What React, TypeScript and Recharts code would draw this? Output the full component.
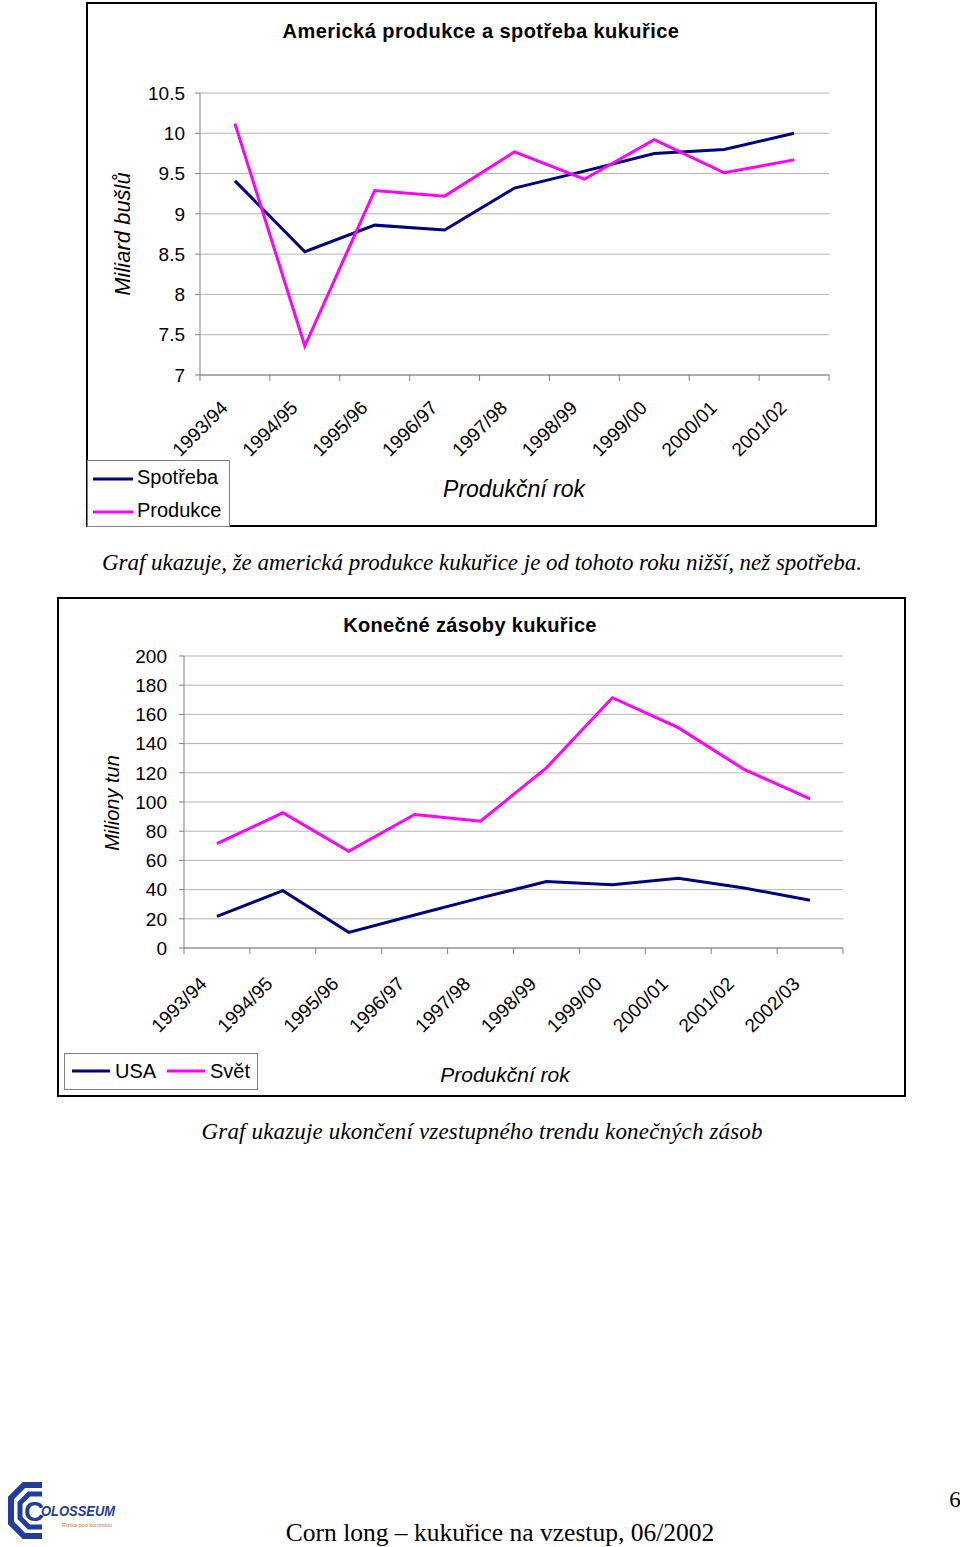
import React from 'react';
import {
    LineChart,
    Line,
    XAxis,
    YAxis,
    CartesianGrid,
} from 'recharts';

// Graf 1 – americká produkce a spotřeba (miliard bušlů)
const seasons1 = ['1993/94', '1994/95', '1995/96', '1996/97', '1997/98', '1998/99', '1999/00', '2000/01', '2001/02'];
const spotreba = [9.41, 8.53, 8.86, 8.8, 9.32, 9.53, 9.75, 9.8, 10.0];
const produkce = [10.12, 7.36, 9.29, 9.22, 9.77, 9.43, 9.92, 9.51, 9.67];
const ticks1 = [7, 7.5, 8, 8.5, 9, 9.5, 10, 10.5];

// Graf 2 – konečné zásoby (miliony tun)
const seasons2 = ['1993/94', '1994/95', '1995/96', '1996/97', '1997/98', '1998/99', '1999/00', '2000/01', '2001/02', '2002/03'];
const usa = [21.7, 39.3, 10.7, 22.6, 34.3, 45.5, 43.4, 47.8, 41.1, 32.7];
const svet = [71.5, 92.6, 66.3, 91.4, 86.9, 123.4, 171.4, 150.9, 122.3, 102.2];
const ticks2 = [0, 20, 40, 60, 80, 100, 120, 140, 160, 180, 200];

const data1 = seasons1.map((season, i) => ({ season, spotreba: spotreba[i], produkce: produkce[i] }));
const data2 = seasons2.map((season, i) => ({ season, usa: usa[i], svet: svet[i] }));

const NAVY = '#000080';
const MAGENTA = '#FF00FF';
const GRID = '#b4b4b4';
const AXIS = '#808080';
const LOGO = '#1f3d99';
const SANS = '"Liberation Sans", Arial, sans-serif';
const SERIF = '"Liberation Serif", "Times New Roman", serif';

// popisek osy X: čárky na hranicích kategorií + text otočený o 45°
const SeasonTick = (props: any) => {
    const { x, y, payload, index, band, count, dx, dy } = props;
    const tx = x + dx;
    const ty = y + dy;
    return (
        <g>
            <line x1={x - band / 2} y1={y} x2={x - band / 2} y2={y + 6} stroke={AXIS} />
            {index === count - 1 && (
                <line x1={x + band / 2} y1={y} x2={x + band / 2} y2={y + 6} stroke={AXIS} />
            )}
            <text
                x={tx}
                y={ty}
                transform={`rotate(-45, ${tx}, ${ty})`}
                textAnchor="end"
                fontSize={19}
                fontFamily={SANS}
                fill="#000"
            >
                {payload.value}
            </text>
        </g>
    );
};

const Logo = () => (
    <g>
        <path
            d="M42 1485 L24 1485 L11 1498 L11 1523 L24 1536 L42 1536"
            fill="none"
            stroke={LOGO}
            strokeWidth={6}
        />
        <path
            d="M42 1494 L29 1494 L20 1503 L20 1518 L29 1527 L42 1527"
            fill="none"
            stroke={LOGO}
            strokeWidth={5}
        />
        <text x={24} y={1521} fontSize={28} fontWeight="bold" fontFamily={SANS} fill={LOGO}>C</text>
        <text x={41} y={1516} fontSize={15} fontWeight="bold" fontStyle="italic" fontFamily={SANS} fill={LOGO} textLength={74} lengthAdjust="spacingAndGlyphs">OLOSSEUM</text>
        <text x={62} y={1527} fontSize={5} fontFamily={SANS} fill="#c87a3c" textLength={50} lengthAdjust="spacingAndGlyphs">Rizika pod kontrolou</text>
    </g>
);

export default function App() {
    const band1 = 629 / seasons1.length;
    const band2 = 659 / seasons2.length;

    return (
        <div style={{ position: 'absolute', left: 0, top: 0, width: 960, height: 1547, background: '#fff' }}>
            {/* Graf 1 */}
            <div style={{ position: 'absolute', left: 86, top: 2 }}>
                <LineChart width={791} height={525} data={data1} margin={{ top: 91, right: 48, left: 0, bottom: 0 }}>
                    <CartesianGrid vertical={false} stroke={GRID} />
                    <XAxis
                        dataKey="season"
                        height={152}
                        interval={0}
                        padding={{ left: band1 / 2, right: band1 / 2 }}
                        tickLine={false}
                        tickSize={0}
                        tickMargin={0}
                        axisLine={{ stroke: AXIS }}
                        tick={(p: any) => <SeasonTick {...p} band={band1} count={seasons1.length} dx={-6} dy={34} />}
                    />
                    <YAxis
                        type="number"
                        domain={[7, 10.5]}
                        ticks={ticks1}
                        interval={0}
                        width={114}
                        tickSize={5}
                        tickMargin={10}
                        tickLine={{ stroke: AXIS }}
                        axisLine={{ stroke: AXIS }}
                        tick={{ fontSize: 19, fill: '#000', fontFamily: SANS }}
                    />
                    <YAxis yAxisId="r" orientation="right" width={0} tick={false} tickLine={false} axisLine={{ stroke: AXIS }} />
                    <Line type="linear" dataKey="spotreba" name="Spotřeba" stroke={NAVY} strokeWidth={3} dot={false} isAnimationActive={false} />
                    <Line type="linear" dataKey="produkce" name="Produkce" stroke={MAGENTA} strokeWidth={3} dot={false} isAnimationActive={false} />
                </LineChart>
            </div>

            {/* Graf 2 */}
            <div style={{ position: 'absolute', left: 57, top: 597 }}>
                <LineChart width={849} height={500} data={data2} margin={{ top: 59, right: 63, left: 0, bottom: 0 }}>
                    <CartesianGrid vertical={false} stroke={GRID} />
                    <XAxis
                        dataKey="season"
                        height={149}
                        interval={0}
                        padding={{ left: band2 / 2, right: band2 / 2 }}
                        tickLine={false}
                        tickSize={0}
                        tickMargin={0}
                        axisLine={{ stroke: AXIS }}
                        tick={(p: any) => <SeasonTick {...p} band={band2} count={seasons2.length} dx={-9} dy={37} />}
                    />
                    <YAxis
                        type="number"
                        domain={[0, 200]}
                        ticks={ticks2}
                        interval={0}
                        width={127}
                        tickSize={5}
                        tickMargin={12}
                        tickLine={{ stroke: AXIS }}
                        axisLine={{ stroke: AXIS }}
                        tick={{ fontSize: 19, fill: '#000', fontFamily: SANS }}
                    />
                    <YAxis yAxisId="r" orientation="right" width={0} tick={false} tickLine={false} axisLine={{ stroke: AXIS }} />
                    <Line type="linear" dataKey="usa" name="USA" stroke={NAVY} strokeWidth={3} dot={false} isAnimationActive={false} />
                    <Line type="linear" dataKey="svet" name="Svět" stroke={MAGENTA} strokeWidth={3} dot={false} isAnimationActive={false} />
                </LineChart>
            </div>

            {/* rámečky, nadpisy, legendy, texty stránky */}
            <svg width={960} height={1547} style={{ position: 'absolute', left: 0, top: 0, pointerEvents: 'none' }}>
                <rect x={87} y={3} width={789} height={523} fill="none" stroke="#000" strokeWidth={2} />
                <text x={481} y={38} textAnchor="middle" fontSize={20} fontWeight="bold" fontFamily={SANS} letterSpacing={0.45}>
                    Americká produkce a spotřeba kukuřice
                </text>
                <text transform="translate(130, 234) rotate(-90)" textAnchor="middle" fontSize={22} fontStyle="italic" fontFamily={SANS}>
                    Miliard bušlů
                </text>
                <text x={514} y={497} textAnchor="middle" fontSize={23} fontStyle="italic" fontFamily={SANS}>
                    Produkční rok
                </text>
                <rect x={87.5} y={460.5} width={142} height={66} fill="#fff" stroke={AXIS} />
                <line x1={93} y1={479} x2={133} y2={479} stroke={NAVY} strokeWidth={3} />
                <text x={137} y={484} fontSize={20} fontFamily={SANS}>Spotřeba</text>
                <line x1={93} y1={512} x2={133} y2={512} stroke={MAGENTA} strokeWidth={3} />
                <text x={137} y={517} fontSize={20} fontFamily={SANS}>Produkce</text>

                <text x={482} y={570} textAnchor="middle" fontSize={23} fontStyle="italic" fontFamily={SERIF} textLength={760} lengthAdjust="spacing">
                    Graf ukazuje, že americká produkce kukuřice je od tohoto roku nižší, než spotřeba.
                </text>

                <rect x={58} y={598} width={847} height={498} fill="none" stroke="#000" strokeWidth={2} />
                <text x={470} y={632} textAnchor="middle" fontSize={20} fontWeight="bold" fontFamily={SANS} letterSpacing={0.35}>
                    Konečné zásoby kukuřice
                </text>
                <text transform="translate(119, 803) rotate(-90)" textAnchor="middle" fontSize={20} fontStyle="italic" fontFamily={SANS}>
                    Miliony tun
                </text>
                <text x={505} y={1082} textAnchor="middle" fontSize={21} fontStyle="italic" fontFamily={SANS}>
                    Produkční rok
                </text>
                <rect x={64.5} y={1053.5} width={193} height={36} fill="#fff" stroke={AXIS} />
                <line x1={72} y1={1071} x2={110} y2={1071} stroke={NAVY} strokeWidth={3} />
                <text x={115} y={1078} fontSize={20} fontFamily={SANS}>USA</text>
                <line x1={167} y1={1071} x2={205} y2={1071} stroke={MAGENTA} strokeWidth={3} />
                <text x={210} y={1078} fontSize={20} fontFamily={SANS}>Svět</text>

                <text x={482} y={1139} textAnchor="middle" fontSize={23} fontStyle="italic" fontFamily={SERIF} textLength={561} lengthAdjust="spacing">
                    Graf ukazuje ukončení vzestupného trendu konečných zásob
                </text>

                <Logo />
                <text x={955} y={1507} textAnchor="middle" fontSize={23} fontFamily={SERIF}>6</text>
                <text x={500} y={1541} textAnchor="middle" fontSize={25.5} fontFamily={SERIF}>
                    Corn long – kukuřice na vzestup, 06/2002
                </text>
            </svg>
        </div>
    );
}
